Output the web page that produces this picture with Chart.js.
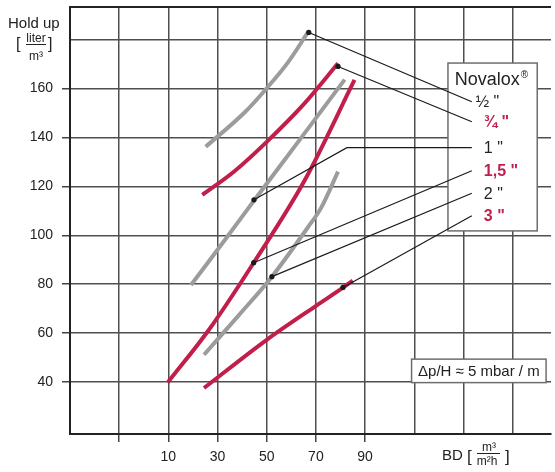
<!DOCTYPE html>
<html>
<head>
<meta charset="utf-8">
<script src="https://cdn.jsdelivr.net/npm/chart.js@4/dist/chart.umd.min.js"></script>
<style>
  html, body { margin: 0; padding: 0; background: #fff; }
</style>
</head>
<body>
<canvas id="holdupChart" width="555" height="472"></canvas>
<script>
// tick values
const xGrid = [-10, 10, 30, 50, 70, 90, 110, 130, 150];
const xLabels = [10, 30, 50, 70, 90];
const yGrid = [40, 60, 80, 100, 120, 140, 160, 180];
const yLabels = [40, 60, 80, 100, 120, 140, 160];

// Novalox sizes
const sizes = ["½ \"", "¾ \"", "1 \"", "1,5 \"", "2 \"", "3 \""];

// BD (x) and hold up (y) per size
const bdHalf = [25.2, 41.3, 50.0, 58.8, 66.9];
const holdHalf = [136.2, 150.5, 160.1, 170.9, 183.2];
const bdThreeQuarter = [23.8, 37.0, 50.0, 65.0, 79.0];
const holdThreeQuarter = [116.5, 126.3, 138.2, 153.5, 170.3];
const bdOne = [19.2, 33.5, 44.7, 63.0, 81.7];
const holdOne = [79.7, 98.8, 114.0, 138.5, 163.6];
const bdOneHalf = [9.7, 26.5, 44.7, 65.5, 85.7];
const holdOneHalf = [39.8, 61.4, 88.8, 122.6, 163.5];
const bdTwo = [24.5, 38.6, 52.1, 66.9, 72.0, 79.0];
const holdTwo = [51.2, 67.3, 83.1, 103.5, 111.0, 126.0];
const bdThree = [24.5, 50.0, 70.2, 81.0, 85.0];
const holdThree = [37.6, 57.3, 71.3, 78.6, 81.5];

// marked point on each curve and where its label sits
const markBd = [67.1, 79.0, 44.8, 44.7, 52.1, 81.0];
const markHold = [182.9, 169.0, 114.5, 88.8, 83.1, 78.7];
const labelHold = [154.6, 146.4, 135.8, 126.4, 117.2, 108.0];

const RED = "#c21e4b";
const GREY = "#9c9c9c";
const FONT = "'Liberation Sans', Arial, sans-serif";
const X_MIN = -30, X_MAX = 165.6, Y_MIN = 18.8, Y_MAX = 193.3;

const curves = [
  [bdHalf, holdHalf, GREY],
  [bdThreeQuarter, holdThreeQuarter, RED],
  [bdOne, holdOne, GREY],
  [bdOneHalf, holdOneHalf, RED],
  [bdTwo, holdTwo, GREY],
  [bdThree, holdThree, RED],
];
const isRed = [false, true, false, true, false, true];

const LABEL_X = 133.4;
const datasets = curves.map(([xs, ys, color]) => ({
  data: xs.map((v, i) => ({ x: v, y: ys[i] })),
  borderColor: color,
  borderWidth: 4,
  borderCapStyle: "butt",
  pointRadius: 0,
  cubicInterpolationMode: "monotone",
  order: color === RED ? 1 : 2,
}));

// leader lines from the marked points to the labels
sizes.forEach((s, i) => {
  const pts = [{ x: markBd[i], y: markHold[i] }];
  if (i === 2) pts.push({ x: 82.6, y: labelHold[i] });
  pts.push({ x: LABEL_X, y: labelHold[i] });
  datasets.push({
    data: pts,
    borderColor: "#1a1a1a",
    borderWidth: 1.2,
    pointRadius: (c) => (c.dataIndex === 0 ? 2.6 : 0),
    pointBackgroundColor: "#1a1a1a",
    pointBorderWidth: 0,
    tension: 0,
    order: 0,
  });
});

const boxes = {
  id: "boxes",
  beforeDatasetsDraw(chart) {
    const { ctx, scales: { x, y } } = chart;
    ctx.save();
    ctx.fillStyle = "#fff";
    ctx.strokeStyle = "#6e6e6e";
    ctx.lineWidth = 1.5;
    // legend box
    let l = x.getPixelForValue(123.7), r = x.getPixelForValue(160);
    let t = y.getPixelForValue(170.4), b = y.getPixelForValue(101.8);
    ctx.fillRect(l, t, r - l, b - t);
    ctx.strokeRect(l, t, r - l, b - t);
    // pressure drop box
    l = x.getPixelForValue(108.9); r = x.getPixelForValue(163.6);
    t = y.getPixelForValue(49.4); b = y.getPixelForValue(39.8);
    ctx.fillRect(l, t, r - l, b - t);
    ctx.strokeRect(l, t, r - l, b - t);
    ctx.fillStyle = "#222";
    ctx.font = "15px " + FONT;
    ctx.textAlign = "center";
    ctx.textBaseline = "middle";
    ctx.fillText("Δp/H ≈ 5 mbar / m", (l + r) / 2, (t + b) / 2 + 1);
    ctx.restore();
  },
  afterDatasetsDraw(chart) {
    const { ctx, scales: { x, y } } = chart;
    ctx.save();
    ctx.textBaseline = "middle";
    ctx.textAlign = "left";
    ctx.fillStyle = "#222";
    ctx.font = "18px " + FONT;
    const nx = x.getPixelForValue(141.5) - 37, ny = y.getPixelForValue(163.5);
    ctx.fillText("Novalox", nx, ny);
    const w = ctx.measureText("Novalox").width;
    ctx.font = "10px " + FONT;
    ctx.fillText("®", nx + w + 1, ny - 5);
    sizes.forEach((s, i) => {
      ctx.font = (isRed[i] ? "bold 16px " : "16px ") + FONT;
      ctx.fillStyle = isRed[i] ? RED : "#222";
      const lx = x.getPixelForValue(LABEL_X) + (i === 0 ? 4 : 12);
      ctx.fillText(s, lx, y.getPixelForValue(labelHold[i]) + 1);
    });
    ctx.restore();
  },
  afterDraw(chart) {
    const ctx = chart.ctx;
    ctx.save();
    ctx.fillStyle = "#222";
    ctx.strokeStyle = "#222";
    ctx.lineWidth = 1;
    ctx.textBaseline = "alphabetic";
    ctx.textAlign = "left";
    // y title
    ctx.font = "15px " + FONT;
    ctx.fillText("Hold up", 8, 28);
    ctx.font = "16px " + FONT;
    ctx.fillText("[", 16, 49);
    ctx.fillText("]", 48, 49);
    ctx.textAlign = "center";
    ctx.font = "12px " + FONT;
    ctx.fillText("liter", 36, 42);
    ctx.fillText("m³", 36, 60);
    ctx.beginPath(); ctx.moveTo(26, 44.5); ctx.lineTo(46, 44.5); ctx.stroke();
    // x title
    ctx.textAlign = "left";
    ctx.font = "15px " + FONT;
    ctx.fillText("BD", 442, 460);
    ctx.font = "17px " + FONT;
    ctx.fillText("[", 467, 462);
    ctx.fillText("]", 505, 462);
    ctx.textAlign = "center";
    ctx.font = "12px " + FONT;
    ctx.fillText("m³", 489, 451);
    ctx.fillText("m²h", 487, 465);
    ctx.beginPath(); ctx.moveTo(477, 453.5); ctx.lineTo(500, 453.5); ctx.stroke();
    ctx.restore();
  },
};

new Chart(document.getElementById("holdupChart"), {
  type: "line",
  data: { datasets },
  plugins: [boxes],
  options: {
    responsive: false,
    animation: false,
    devicePixelRatio: 1,
    layout: { padding: { top: 7, right: 0, left: 0, bottom: 0 } },
    plugins: { legend: { display: false }, tooltip: { enabled: false } },
    scales: {
      x: {
        type: "linear",
        min: X_MIN,
        max: X_MAX,
        afterBuildTicks: (s) => { s.ticks = xGrid.map((v) => ({ value: v })); },
        afterFit: (s) => { s.height = 38; s.paddingLeft = 0; s.paddingRight = 0; },
        ticks: {
          autoSkip: false,
          maxRotation: 0,
          padding: 7,
          color: "#222",
          font: { size: 14, family: FONT },
          callback: (v) => (xLabels.includes(v) ? String(v) : ""),
        },
        grid: {
          color: "#4f4f4f",
          lineWidth: 1.5,
          tickLength: 8,
          tickColor: (c) => (c.tick && c.tick.value <= 90 ? "#444" : "rgba(0,0,0,0)"),
        },
        border: { color: "#222", width: 2 },
      },
      y: {
        type: "linear",
        min: Y_MIN,
        max: Y_MAX,
        afterBuildTicks: (s) => { s.ticks = yGrid.concat([Y_MAX]).map((v) => ({ value: v })); },
        afterFit: (s) => { s.width = 70; s.paddingTop = 0; s.paddingBottom = 0; },
        ticks: {
          autoSkip: false,
          padding: 9,
          color: "#222",
          font: { size: 14, family: FONT },
          callback: (v) => (yLabels.includes(v) ? String(v) : ""),
        },
        grid: {
          color: (c) => (c.tick && c.tick.value === Y_MAX ? "#222" : "#4f4f4f"),
          lineWidth: (c) => (c.tick && c.tick.value === Y_MAX ? 2 : 1.5),
          tickLength: 8,
          tickColor: (c) => (c.tick && yLabels.includes(c.tick.value) ? "#444" : "rgba(0,0,0,0)"),
        },
        border: { color: "#222", width: 2 },
      },
    },
  },
});
</script>
</body>
</html>
